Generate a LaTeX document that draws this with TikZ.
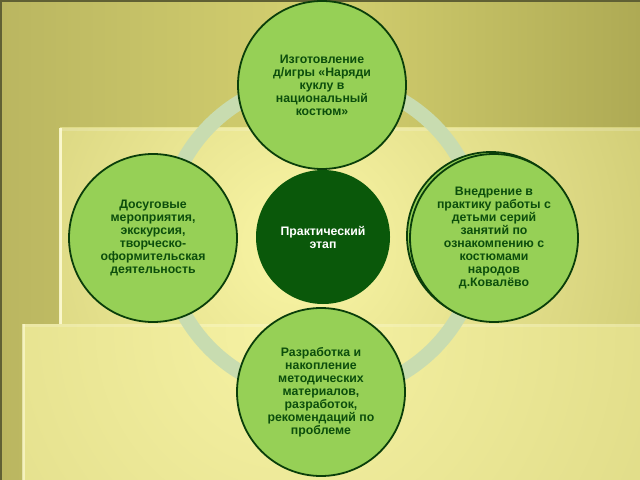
\documentclass[tikz,border=0pt]{standalone}
\usepackage{fontspec}
\setmainfont{Liberation Sans}
\usetikzlibrary{shapes.geometric}
\definecolor{bgA}{RGB}{186,182,96}
\definecolor{bgM}{RGB}{212,208,112}
\definecolor{bgB}{RGB}{174,170,84}
\definecolor{glowIn}{RGB}{250,246,166}
\definecolor{glowOut}{RGB}{204,200,112}
\definecolor{glowInB}{RGB}{246,242,164}
\definecolor{glowOutB}{RGB}{218,214,128}
\definecolor{ringC}{RGB}{200,220,176}
\definecolor{leafFill}{RGB}{150,208,86}
\definecolor{leafLine}{RGB}{10,62,10}
\definecolor{darkFill}{RGB}{10,88,10}
\definecolor{txtGreen}{RGB}{12,78,12}
\definecolor{edgeDark}{RGB}{96,96,52}
\tikzset{
  leaf/.style={ellipse, draw=leafLine, line width=1.8bp, fill=leafFill,
    minimum width=168bp, minimum height=168bp, inner sep=0pt, align=center,
    text=txtGreen, font=\fontsize{12.3bp}{13bp}\selectfont\bfseries},
  hub/.style={ellipse, draw=none, fill=darkFill,
    minimum width=134bp, minimum height=134bp, inner sep=0pt, align=center,
    text=white, font=\fontsize{12.3bp}{13bp}\selectfont\bfseries},
}
\begin{document}
\begin{tikzpicture}[x=1bp,y=-1bp]
\useasboundingbox (0,0) rectangle (640,480);
% background
\shade[left color=bgA, right color=bgB, middle color=bgM] (0,0) rectangle (640,480);
\begin{scope}
  \clip (60,128) rectangle (640,480);
  \shade[inner color=glowIn, outer color=glowOut] (300,245) circle (420);
\end{scope}
\begin{scope}
  \clip (23,324) rectangle (640,480);
  \shade[inner color=glowInB, outer color=glowOutB] (290,330) circle (520);
\end{scope}
\fill[white, opacity=0.18] (60,128) rectangle (640,131);
\fill[white, opacity=0.18] (23,324) rectangle (640,327);
\fill[white!85!yellow, opacity=0.85] (59,128) rectangle (62,324);
\fill[white!85!yellow, opacity=0.6] (22,324) rectangle (25,480);
\fill[edgeDark] (0,0) rectangle (640,2);
\fill[edgeDark] (0,0) rectangle (2,480);
% ring
\coordinate (ringc) at (322,237);
\draw[ringC, line width=15bp] (ringc) circle (158);
% hub and leaves
\node[hub] (hub) at (323,237) {Практический\\этап};
\node[leaf] (top) at (322,85) {Изготовление\\д/игры «Наряди\\куклу в\\национальный\\костюм»};
\node[leaf] (left) at (153,238) {Досуговые\\мероприятия,\\экскурсия,\\творческо-\\оформительская\\деятельность};
\node[ellipse, draw=leafLine, line width=1.8bp, fill=leafFill,
    minimum width=168bp, minimum height=168bp] (rightback) at (491,236) {};
\node[leaf] (right) at (494,238) {Внедрение в\\практику работы с\\детьми серий\\занятий по\\ознакомпению с\\костюмами\\народов\\д.Ковалёво};
\node[leaf] (bottom) at (321,392) {Разработка и\\накопление\\методических\\материалов,\\разработок,\\рекомендаций по\\проблеме};
\end{tikzpicture}
\end{document}
